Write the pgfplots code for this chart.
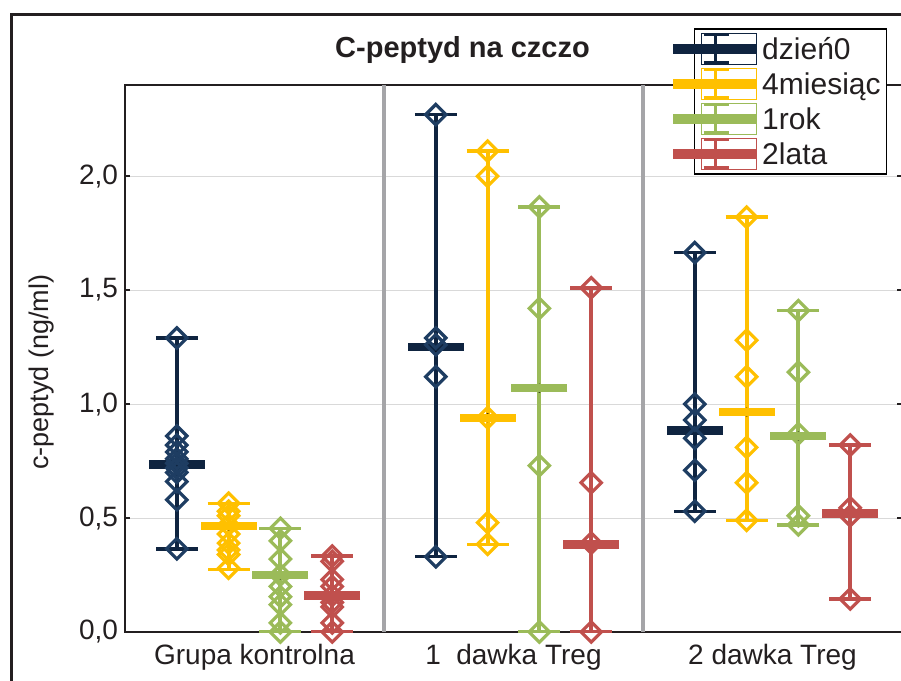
\documentclass[border=0pt]{standalone}
\usepackage{pgfplots}
\usepackage{pgfplotstable}
\pgfplotsset{compat=1.18}
\usepackage{fontspec}
\setmainfont{Liberation Sans}

\definecolor{cnavy}{HTML}{0F2440}
\definecolor{cnavyd}{HTML}{1E3D62}
\definecolor{cyel}{HTML}{FFC000}
\definecolor{cgrn}{HTML}{9BBB59}
\definecolor{cred}{HTML}{C0504D}
\definecolor{sepgray}{HTML}{A5A5A8}
\definecolor{gridgray}{HTML}{D9D9D9}
\definecolor{ink}{HTML}{231F20}

% range and median per group: x position, minimum, median, maximum
\pgfplotstableread{
x    lo     med    hi
-0.3 0.365  0.735  1.29
0.7  0.33   1.25   2.27
1.7  0.53   0.885  1.665
}\statNavy
\pgfplotstableread{
x    lo     med    hi
-0.1 0.275  0.465  0.565
0.9  0.385  0.94   2.11
1.9  0.49   0.965  1.82
}\statYel
\pgfplotstableread{
x    lo     med    hi
0.1  0.0    0.25   0.455
1.1  0.0    1.07   1.865
2.1  0.47   0.86   1.41
}\statGrn
\pgfplotstableread{
x    lo     med    hi
0.3  0.0    0.16   0.333
1.3  0.0    0.385  1.51
2.3  0.145  0.52   0.82
}\statRed

% individual measurements
\pgfplotstableread{
x    y
-0.3 1.29
-0.3 0.86
-0.3 0.82
-0.3 0.79
-0.3 0.76
-0.3 0.74
-0.3 0.72
-0.3 0.70
-0.3 0.66
-0.3 0.58
-0.3 0.365
0.7  2.27
0.7  1.29
0.7  1.26
0.7  1.12
0.7  0.33
1.7  1.665
1.7  1.00
1.7  0.93
1.7  0.85
1.7  0.71
1.7  0.53
}\ptsNavy
\pgfplotstableread{
x    y
-0.1 0.565
-0.1 0.53
-0.1 0.51
-0.1 0.47
-0.1 0.43
-0.1 0.39
-0.1 0.36
-0.1 0.34
-0.1 0.28
0.9  2.11
0.9  2.00
0.9  0.94
0.9  0.48
0.9  0.385
1.9  1.82
1.9  1.28
1.9  1.12
1.9  0.81
1.9  0.655
1.9  0.49
}\ptsYel
\pgfplotstableread{
x    y
0.1  0.455
0.1  0.40
0.1  0.32
0.1  0.25
0.1  0.20
0.1  0.155
0.1  0.12
0.1  0.04
0.1  0.0
1.1  1.865
1.1  1.42
1.1  0.73
1.1  0.0
2.1  1.41
2.1  1.14
2.1  0.87
2.1  0.51
2.1  0.47
}\ptsGrn
\pgfplotstableread{
x    y
0.3  0.333
0.3  0.31
0.3  0.23
0.3  0.20
0.3  0.16
0.3  0.13
0.3  0.11
0.3  0.04
0.3  0.0
1.3  1.51
1.3  0.655
1.3  0.39
1.3  0.0
2.3  0.82
2.3  0.545
2.3  0.51
2.3  0.145
}\ptsRed

\pgfplotsset{
  whisker/.style={forget plot, only marks, mark=none,
    error bars/y dir=both, error bars/y explicit,
    error bars/error bar style={draw=#1, line width=2pt},
    error bars/error mark=|,
    error bars/error mark options={draw=#1, line width=1.7pt, mark size=10.5pt}},
  median/.style={forget plot, only marks, mark=-, mark size=14pt,
    mark options={draw=#1, line width=4.25pt}},
  pts/.style={forget plot, only marks, mark=square, mark size=3.6pt, line width=1.6pt,
    every mark/.append style={line width=1.6pt},
    mark options={draw=#1, fill=none, rotate=45, line width=1.6pt}},
  legbar/.style={legend image code/.code={
      \draw[line width=5pt, overlay] (-14pt,0pt) -- (27.5pt,0pt);
      \draw[line width=1.6pt] (1pt,7pt) -- (13.5pt,7pt) (1pt,-7pt) -- (13.5pt,-7pt);
      \draw[line width=1.6pt] (7pt,-7pt) -- (7pt,7pt);
      \path (0pt,-7.75pt) rectangle (27.5pt,7.75pt);
  }},
}

\begin{document}
\begin{tikzpicture}
\path[use as bounding box] (0,0) rectangle (450.5pt,340.5pt);
\begin{axis}[
  at={(62.5pt,24.5pt)}, anchor=south west,
  scale only axis, width=388.5pt, height=273.5pt,
  xmin=-0.5, xmax=2.5, ymin=0, ymax=2.4,
  axis line style={draw=ink, line width=1pt},
  xtick={0,1,2},
  xticklabels={Grupa kontrolna, 1\hspace{0.55em}dawka Treg, 2 dawka Treg},
  x tick style={draw=none},
  extra x ticks={0.5,1.5}, extra x tick labels={},
  extra x tick style={grid=major, major grid style={draw=sepgray, line width=1.8pt}},
  ytick={0,0.5,1,1.5,2},
  ymajorgrids, y grid style={draw=gridgray, line width=0.5pt},
  tick align=inside, major tick length=2.5pt,
  y tick style={draw=ink, line width=0.75pt},
  /pgf/number format/fixed, /pgf/number format/fixed zerofill,
  /pgf/number format/precision=1, /pgf/number format/use comma,
  /pgf/number format/assume math mode=true,
  tick label style={font=\fontsize{14}{16}\selectfont, text=ink},
  xticklabel style={yshift=-2.5pt},
  title={C-peptyd na czczo},
  title style={at={(axis description cs:0.4344,1.029)}, anchor=base,
    font=\bfseries\fontsize{14.5}{16}\selectfont, text=ink},
  ylabel={c-peptyd (ng/ml)},
  ylabel style={at={(axis description cs:-0.107,0.475)}, anchor=center,
    font=\fontsize{13.5}{16}\selectfont, text=ink},
  legend style={at={(axis description cs:0.7323,1.1042)}, anchor=north west,
    draw=black, line width=0.75pt, fill=white,
    inner xsep=3pt, inner ysep=1.25pt, column sep=2.5pt, row sep=0pt,
    font=\fontsize{15}{18}\selectfont,
    nodes={inner xsep=0pt, inner ysep=0pt, text height=14.15pt, text depth=3.35pt, text=ink}},
  legend cell align=left,
]
\addlegendimage{legbar, color=cnavy}
\addlegendentry{dzień0}
\addlegendimage{legbar, color=cyel}
\addlegendentry{4miesiąc}
\addlegendimage{legbar, color=cgrn}
\addlegendentry{1rok}
\addlegendimage{legbar, color=cred}
\addlegendentry{2lata}

% whiskers from minimum to maximum
\addplot[whisker=cnavy] table[x=x, y=med, y error plus expr=\thisrow{hi}-\thisrow{med}, y error minus expr=\thisrow{med}-\thisrow{lo}] {\statNavy};
\addplot[whisker=cyel] table[x=x, y=med, y error plus expr=\thisrow{hi}-\thisrow{med}, y error minus expr=\thisrow{med}-\thisrow{lo}] {\statYel};
\addplot[whisker=cgrn] table[x=x, y=med, y error plus expr=\thisrow{hi}-\thisrow{med}, y error minus expr=\thisrow{med}-\thisrow{lo}] {\statGrn};
\addplot[whisker=cred] table[x=x, y=med, y error plus expr=\thisrow{hi}-\thisrow{med}, y error minus expr=\thisrow{med}-\thisrow{lo}] {\statRed};

% medians
\addplot[median=cnavy] table[x=x, y=med] {\statNavy};
\addplot[median=cyel] table[x=x, y=med] {\statYel};
\addplot[median=cgrn] table[x=x, y=med] {\statGrn};
\addplot[median=cred] table[x=x, y=med] {\statRed};

% single values
\addplot[pts=cnavyd] table[x=x, y=y] {\ptsNavy};
\addplot[pts=cyel] table[x=x, y=y] {\ptsYel};
\addplot[pts=cgrn] table[x=x, y=y] {\ptsGrn};
\addplot[pts=cred] table[x=x, y=y] {\ptsRed};
\end{axis}
% outer frame
\draw[ink, line width=1.5pt] (5.85pt,-10pt) -- (5.85pt,333.15pt) -- (470pt,333.15pt);
\end{tikzpicture}
\end{document}
